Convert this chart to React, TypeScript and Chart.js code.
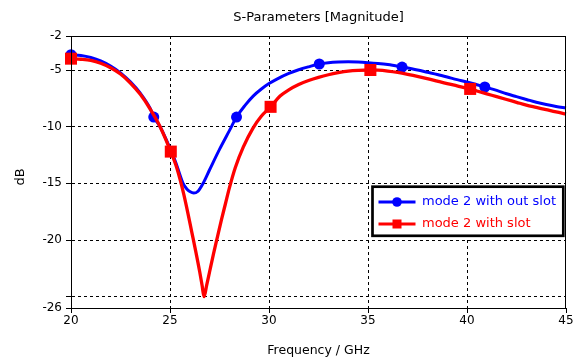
import { useEffect, useRef } from "react";
import { Chart, registerables } from "chart.js";

Chart.register(...registerables);

// ---- data ----
const freqBlue = [
  20, 20.5, 21, 21.5, 22, 22.5, 23, 23.5, 24, 24.18, 24.5, 25, 25.3, 25.5, 25.66, 25.85, 26, 26.2, 26.4, 26.67,
  27, 27.5, 28, 28.36, 28.8, 29.2, 29.6, 30, 30.4, 31, 31.5, 32, 32.54, 33, 33.5, 34, 34.5, 35, 35.5, 36, 36.72,
  37.5, 38, 38.5, 39, 39.5, 40, 40.5, 40.9, 41.5, 42, 42.5, 43, 43.5, 44, 44.5, 45,
];
const magBlue = [
  -3.65, -3.72, -3.9, -4.2, -4.65, -5.25, -6.05, -7.05, -8.4, -9.15, -10.0, -11.9, -13.2, -14.25, -15.0, -15.5,
  -15.72, -15.86, -15.72, -15.0, -13.8, -12.0, -10.35, -9.15, -8.1, -7.3, -6.7, -6.2, -5.8, -5.3, -4.98, -4.72,
  -4.47, -4.36, -4.3, -4.28, -4.3, -4.35, -4.42, -4.52, -4.74, -5.0, -5.2, -5.4, -5.62, -5.85, -6.05, -6.3, -6.5,
  -6.8, -7.1, -7.35, -7.6, -7.85, -8.05, -8.22, -8.35,
];
const markersBlue = [20, 24.18, 28.36, 32.54, 36.72, 40.9];

const freqRed = [
  20, 20.5, 21, 21.5, 22, 22.5, 23, 23.5, 24, 24.5, 25.04, 25.3, 25.5, 25.7, 25.9, 26.1, 26.3, 26.5, 26.62, 26.72,
  26.85, 27, 27.2, 27.4, 27.6, 27.8, 28, 28.3, 28.7, 29.2, 29.6, 30.08, 30.56, 31, 31.5, 32, 32.5, 33, 33.5, 34,
  34.5, 35.12, 35.5, 36, 36.5, 37, 37.6, 38.1, 38.5, 39, 39.5, 40.16, 40.5, 41, 41.5, 42, 42.5, 43, 43.5, 44,
  44.5, 45,
];
const magRed = [
  -4.0, -4.05, -4.15, -4.4, -4.8, -5.35, -6.15, -7.15, -8.45, -10.0, -12.2, -13.4, -14.6, -16.0, -17.6, -19.3,
  -21.0, -22.8, -24.0, -25.0, -24.0, -22.8, -21.2, -19.7, -18.2, -16.8, -15.4, -13.6, -11.8, -10.1, -9.1, -8.25,
  -7.3, -6.75, -6.28, -5.93, -5.65, -5.42, -5.24, -5.1, -5.03, -5.0, -5.02, -5.1, -5.22, -5.38, -5.6, -5.8,
  -5.98, -6.2, -6.4, -6.67, -6.85, -7.1, -7.35, -7.6, -7.85, -8.1, -8.3, -8.5, -8.7, -8.88,
];
const markersRed = [20, 25.04, 30.08, 35.12, 40.16];

const xTicks = [20, 25, 30, 35, 40, 45];
const yTicks = [-26, -25, -20, -15, -10, -5, -2];
const yUnlabeled = [-25];

const seriesLabels = ["mode 2 with out slot", "mode 2 with slot"];
const chartTitle = "S-Parameters [Magnitude]";
const xTitle = "Frequency / GHz";
const yTitle = "dB";

const BLUE = "#0000ff";
const RED = "#ff0000";
const FONT = "'DejaVu Sans', sans-serif";

const decorPlugin = {
  id: "decor",
  afterDraw(chart: any) {
    const { ctx, chartArea } = chart;
    const { left, right, top, bottom } = chartArea;
    ctx.save();
    // frame
    ctx.strokeStyle = "#000";
    ctx.lineWidth = 1;
    ctx.strokeRect(left + 0.5, top + 0.5, right - left - 1, bottom - top);

    // title
    ctx.fillStyle = "#000";
    ctx.font = `13px ${FONT}`;
    ctx.textAlign = "center";
    ctx.textBaseline = "middle";
    ctx.fillText(chartTitle, (left + right) / 2, 18);

    // x title
    ctx.font = `12.5px ${FONT}`;
    ctx.fillText(xTitle, (left + right) / 2, 351);

    // y title
    ctx.save();
    ctx.translate(21, 177);
    ctx.rotate(-Math.PI / 2);
    ctx.font = `13px ${FONT}`;
    ctx.fillText(yTitle, 0, 0);
    ctx.restore();

    // legend
    const bx = 372.5, by = 186.7, bw = 190.8, bh = 49.1;
    ctx.fillStyle = "#fff";
    ctx.fillRect(bx, by, bw, bh);
    ctx.strokeStyle = "#000";
    ctx.lineWidth = 2.7;
    ctx.strokeRect(bx, by, bw, bh);

    const rows = [
      { y: 202, color: BLUE, label: seriesLabels[0], style: "circle" },
      { y: 224, color: RED, label: seriesLabels[1], style: "rect" },
    ];
    ctx.font = `13px ${FONT}`;
    ctx.textAlign = "left";
    for (const r of rows) {
      ctx.strokeStyle = r.color;
      ctx.fillStyle = r.color;
      ctx.lineWidth = 2.8;
      ctx.beginPath();
      ctx.moveTo(378.5, r.y);
      ctx.lineTo(415.5, r.y);
      ctx.stroke();
      if (r.style === "circle") {
        ctx.beginPath();
        ctx.arc(397, r.y, 4.8, 0, Math.PI * 2);
        ctx.fill();
      } else {
        ctx.fillRect(397 - 4.5, r.y - 4.5, 9, 9);
      }
      ctx.fillText(r.label, 422, r.y);
    }
    ctx.restore();
  },
};

export default function App() {
  const ref = useRef<HTMLCanvasElement>(null);

  useEffect(() => {
    document.body.style.margin = "0";
    const blueData = freqBlue.map((x, i) => ({ x, y: magBlue[i] }));
    const redData = freqRed.map((x, i) => ({ x, y: magRed[i] }));

    const gridColor = (min: number, max: number) => (ctx: any) => {
      const v = ctx.tick?.value;
      return v === min || v === max ? "rgba(0,0,0,0)" : "#000";
    };

    const chart = new Chart(ref.current!, {
      type: "line",
      data: {
        datasets: [
          {
            label: seriesLabels[0],
            data: blueData,
            borderColor: BLUE,
            backgroundColor: BLUE,
            borderWidth: 3,
            cubicInterpolationMode: "monotone",
            pointStyle: "circle",
            pointRadius: (c: any) => (markersBlue.includes(c.raw?.x) ? 5.5 : 0),
            pointHoverRadius: 0,
            pointBorderWidth: 0,
            pointBackgroundColor: BLUE,
            clip: 12,
            order: 2,
          } as any,
          {
            label: seriesLabels[1],
            data: redData,
            borderColor: RED,
            backgroundColor: RED,
            borderWidth: 3.3,
            cubicInterpolationMode: "monotone",
            pointStyle: "rect",
            pointRadius: (c: any) => (markersRed.includes(c.raw?.x) ? 8.5 : 0),
            pointHoverRadius: 0,
            pointBorderWidth: 0,
            pointBackgroundColor: RED,
            clip: 12,
            order: 1,
          } as any,
        ],
      },
      options: {
        animation: false,
        responsive: false,
        devicePixelRatio: 1,
        events: [],
        layout: { padding: { left: 0, right: 13, top: 36, bottom: 0 } },
        plugins: {
          legend: { display: false },
          title: { display: false },
          tooltip: { enabled: false },
        },
        scales: {
          x: {
            type: "linear",
            min: 20,
            max: 45,
            afterBuildTicks: (s: any) => {
              s.ticks = xTicks.map((v) => ({ value: v }));
            },
            afterFit: (s: any) => {
              s.height = 51;
            },
            ticks: {
              autoSkip: false,
              maxRotation: 0,
              padding: 1,
              color: "#000",
              font: { family: FONT, size: 12 },
              callback: (v: any) => String(v),
            },
            grid: {
              color: gridColor(20, 45),
              tickColor: "#000",
              tickLength: 5,
              lineWidth: 1,
            },
            border: { display: true, color: "#000", width: 1, dash: [3, 3] },
          },
          y: {
            type: "linear",
            min: -26,
            max: -2,
            afterBuildTicks: (s: any) => {
              s.ticks = yTicks.map((v) => ({ value: v }));
            },
            afterFit: (s: any) => {
              s.width = 71;
            },
            ticks: {
              autoSkip: false,
              padding: 4,
              color: "#000",
              font: { family: FONT, size: 12 },
              callback: (v: any) => (yUnlabeled.includes(v) ? "" : String(v)),
            },
            grid: {
              color: gridColor(-26, -2),
              tickColor: "#000",
              tickLength: 5,
              lineWidth: 1,
            },
            border: { display: true, color: "#000", width: 1, dash: [3, 3] },
          },
        },
      },
      plugins: [decorPlugin],
    });
    return () => chart.destroy();
  }, []);

  return (
    <div style={{ width: 579, height: 359, position: "relative" }}>
      <canvas ref={ref} width={579} height={359} style={{ display: "block" }} />
    </div>
  );
}
